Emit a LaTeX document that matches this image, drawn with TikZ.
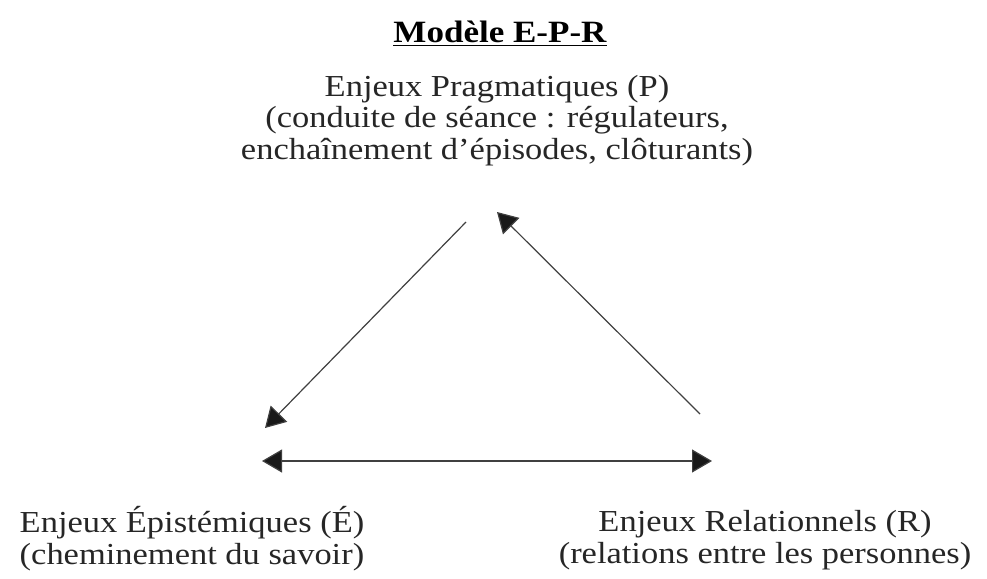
\documentclass[tikz,border=0pt]{standalone}
\usepackage{fontspec}
\setmainfont{Liberation Serif}[FakeStretch=1.13]
\usetikzlibrary{arrows.meta}
\begin{document}
\begin{tikzpicture}[x=1pt,y=-1pt,
  lbl/.style={align=center,font=\fontsize{30.5}{31.5}\selectfont,inner sep=0pt,anchor=base,text=black!85},
  arr/.style={line width=1.2pt,draw=black!75,-{Triangle[length=20pt,width=23pt,fill=black!90]}}]
\useasboundingbox (0,0) rectangle (987,578);
\node[inner sep=0pt,anchor=base,font=\fontsize{31}{36}\selectfont\bfseries] (title) at (500,43) {\underline{Modèle E-P-R}};
\node[lbl] (P) at (497,159) {Enjeux Pragmatiques (P)\\(conduite de séance : régulateurs,\\enchaînement d’épisodes, clôturants)};
\node[lbl] (E) at (192,564) {Enjeux Épistémiques (É)\\(cheminement du savoir)};
\node[lbl] (R) at (765,563) {Enjeux Relationnels (R)\\(relations entre les personnes)};
\coordinate (a1s) at (466,222);
\coordinate (a1e) at (265,428);
\coordinate (a2s) at (700,414);
\coordinate (a2e) at (497,212);
\coordinate (a3s) at (262,461);
\coordinate (a3e) at (712,461);
\draw[arr] (a1s) -- (a1e);
\draw[arr] (a2s) -- (a2e);
\draw[arr,{Triangle[length=20pt,width=23pt,fill=black!90]}-{Triangle[length=20pt,width=23pt,fill=black!90]}] (a3s) -- (a3e);
\end{tikzpicture}
\end{document}
